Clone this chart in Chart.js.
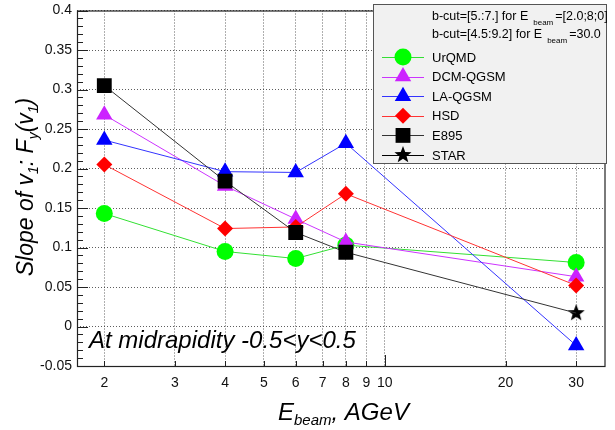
<!DOCTYPE html>
<html>
<head>
<meta charset="utf-8">
<script src="https://cdn.jsdelivr.net/npm/chart.js@4.4.0/dist/chart.umd.min.js"></script>
<style>
  html, body { margin: 0; padding: 0; background: #fff; }
  canvas { display: block; }
</style>
</head>
<body>
<canvas id="chart" width="615" height="430"></canvas>
<script>
// beam energies (AGeV) and slope values
const energies = [2, 4, 6, 8, 30];
const urqmd = [0.143, 0.095, 0.086, 0.103, 0.081];
const dcmQgsm = [0.268, 0.178, 0.136, 0.107, 0.063];
const laQgsm = [0.236, 0.196, 0.195, 0.232, -0.024];
const hsd = [0.205, 0.124, 0.126, 0.168, 0.052];
const e895Energies = [2, 4, 6, 8];
const e895 = [0.305, 0.184, 0.119, 0.094];
const starEnergies = [30];
const star = [0.017];

const xTickValues = [2, 3, 4, 5, 6, 7, 8, 9, 10, 20, 30];
const yTickValues = [-0.05, 0, 0.05, 0.1, 0.15, 0.2, 0.25, 0.3, 0.35, 0.4];

(function () {
  'use strict';

  const FONT = '"Liberation Sans", Arial, Helvetica, sans-serif';

  function toPoints(xs, ys) {
    return xs.map(function (x, i) { return { x: x, y: ys[i] }; });
  }

  function makeStar(r) {
    const c = document.createElement('canvas');
    c.width = c.height = r * 2 + 2;
    const g = c.getContext('2d');
    g.translate(r + 1, r + 1);
    g.beginPath();
    for (let i = 0; i < 10; i++) {
      const rad = i % 2 === 0 ? r : r * 0.42;
      const a = -Math.PI / 2 + i * Math.PI / 5;
      g.lineTo(rad * Math.cos(a), rad * Math.sin(a));
    }
    g.closePath();
    g.fillStyle = '#000';
    g.fill();
    return c;
  }
  const starImg = makeStar(9);

  const series = [
    { label: 'UrQMD', data: toPoints(energies, urqmd), line: '#33e033', fill: '#00ff00', style: 'circle', r: 8.5, order: 4 },
    { label: 'DCM-QGSM', data: toPoints(energies, dcmQgsm), line: '#cc33ff', fill: '#cc22ff', style: 'triangle', r: 9.5, order: 3 },
    { label: 'LA-QGSM', data: toPoints(energies, laQgsm), line: '#3333ff', fill: '#0000ff', style: 'triangle', r: 9.5, order: 2 },
    { label: 'HSD', data: toPoints(energies, hsd), line: '#ff3333', fill: '#ff0000', style: 'rectRot', r: 8, order: 1 },
    { label: 'E895', data: toPoints(e895Energies.concat(starEnergies), e895.concat(star)), line: '#333', fill: '#000', style: 'rect', r: 10.5, order: 0,
      radii: e895Energies.map(function () { return 10.5; }).concat(starEnergies.map(function () { return 0; })) },
    { label: 'STAR', data: toPoints(starEnergies, star), line: '#000', fill: '#000', style: starImg, r: 9, order: 0, noLine: true }
  ];

  function richWidth(ctx, parts, size) {
    let w = 0;
    parts.forEach(function (p) {
      ctx.font = 'italic ' + (p.sub ? p.size : size) + 'px ' + FONT;
      w += ctx.measureText(p.t).width + (p.gap || 0);
    });
    return w;
  }

  function drawRich(ctx, parts, x, y, size) {
    let cx = x;
    parts.forEach(function (p) {
      ctx.font = 'italic ' + (p.sub ? p.size : size) + 'px ' + FONT;
      ctx.fillText(p.t, cx, y + (p.sub ? p.dy : 0));
      cx += ctx.measureText(p.t).width + (p.gap || 0);
    });
    return cx;
  }

  function drawMarker(ctx, s, x, y) {
    ctx.save();
    ctx.fillStyle = s.fill;
    ctx.beginPath();
    if (s.style === 'circle') {
      ctx.arc(x, y, s.r, 0, Math.PI * 2);
    } else if (s.style === 'triangle') {
      const h = s.r * 1.5, hw = s.r * Math.sqrt(3) / 2;
      ctx.moveTo(x, y - s.r);
      ctx.lineTo(x + hw, y - s.r + h);
      ctx.lineTo(x - hw, y - s.r + h);
    } else if (s.style === 'rectRot') {
      ctx.moveTo(x, y - s.r);
      ctx.lineTo(x + s.r, y);
      ctx.lineTo(x, y + s.r);
      ctx.lineTo(x - s.r, y);
    } else if (s.style === 'rect') {
      const h = s.r * Math.SQRT1_2;
      ctx.rect(x - h, y - h, 2 * h, 2 * h);
    } else {
      ctx.drawImage(s.style, x - s.style.width / 2, y - s.style.height / 2);
    }
    ctx.fill();
    ctx.restore();
  }

  const decorations = {
    id: 'decorations',
    afterDatasetsDraw: function (chart) {
      const ctx = chart.ctx;
      const a = chart.chartArea;
      const xs = chart.scales.x, ys = chart.scales.y;
      ctx.save();

      // inner tick marks
      ctx.strokeStyle = '#222';
      ctx.lineWidth = 1;
      ctx.beginPath();
      for (let i = -5; i <= 40; i++) {
        const py = Math.round(ys.getPixelForValue(i / 100)) + 0.5;
        const len = i % 5 === 0 ? 11 : 6;
        ctx.moveTo(a.left, py);
        ctx.lineTo(a.left + len, py);
      }
      xTickValues.forEach(function (v) {
        const px = Math.round(xs.getPixelForValue(v)) + 0.5;
        const len = v === 10 ? 11 : 5;
        ctx.moveTo(px, a.bottom);
        ctx.lineTo(px, a.bottom - len);
      });
      ctx.stroke();

      // frame
      ctx.strokeStyle = '#222';
      ctx.lineWidth = 1.2;
      ctx.strokeRect(a.left + 0.5, a.top + 0.5, a.right - a.left, a.bottom - a.top);

      // annotation
      ctx.fillStyle = '#000';
      ctx.textBaseline = 'alphabetic';
      ctx.font = 'italic 24px ' + FONT;
      ctx.fillText('At midrapidity -0.5<y<0.5', 89, 348);

      // y title
      const yParts = [
        { t: 'Slope of v' }, { t: '1', sub: true, size: 14, dy: 5 },
        { t: ': F' }, { t: 'y', sub: true, size: 14, dy: 5 },
        { t: '(v' }, { t: '1', sub: true, size: 14, dy: 5 }, { t: ')' }
      ];
      ctx.save();
      ctx.translate(33, 187);
      ctx.rotate(-Math.PI / 2);
      const yw = richWidth(ctx, yParts, 23);
      drawRich(ctx, yParts, -yw / 2, 0, 23);
      ctx.restore();

      // x title
      drawRich(ctx, [
        { t: 'E' }, { t: 'beam', sub: true, size: 15, dy: 5 }, { t: ', AGeV' }
      ], 278, 420, 24);

      // legend box
      const lx = 373, ly = 4, lw = 233, lh = 159;
      ctx.fillStyle = '#f1f1f1';
      ctx.fillRect(lx, ly, lw, lh);
      ctx.strokeStyle = '#555';
      ctx.lineWidth = 1;
      ctx.strokeRect(lx + 0.5, ly + 0.5, lw, lh);

      ctx.fillStyle = '#000';
      const headers = [
        { a: 'b-cut=[5.:7.] for E', b: '=[2.0;8;0]', y: 20 },
        { a: 'b-cut=[4.5:9.2] for E', b: '=30.0', y: 38 }
      ];
      headers.forEach(function (h) {
        ctx.font = '12.5px ' + FONT;
        ctx.fillText(h.a, 432, h.y);
        let cx = 432 + ctx.measureText(h.a).width + 5;
        ctx.font = '8px ' + FONT;
        ctx.fillText('beam', cx, h.y + 5);
        cx += ctx.measureText('beam').width + 2;
        ctx.font = '12.5px ' + FONT;
        ctx.fillText(h.b, cx, h.y);
      });

      ctx.textBaseline = 'middle';
      series.forEach(function (s, i) {
        const cy = 57 + i * 19.6;
        ctx.strokeStyle = s.line;
        ctx.lineWidth = 1;
        ctx.beginPath();
        ctx.moveTo(382, Math.round(cy) + 0.5);
        ctx.lineTo(424, Math.round(cy) + 0.5);
        ctx.stroke();
        drawMarker(ctx, s, 403, cy);
        ctx.fillStyle = '#000';
        ctx.font = '13px ' + FONT;
        ctx.fillText(s.label, 432, cy + 1);
      });

      ctx.restore();
    }
  };

  function init() {
    const ctx = document.getElementById('chart');
    new Chart(ctx, {
      type: 'line',
      data: {
        datasets: series.map(function (s) {
          return {
            label: s.label,
            data: s.data,
            order: s.order,
            showLine: !s.noLine,
            borderColor: s.line,
            borderWidth: 1,
            backgroundColor: s.fill,
            pointStyle: s.style,
            pointRadius: s.radii || s.r,
            pointHoverRadius: s.radii || s.r,
            pointBackgroundColor: s.fill,
            pointBorderColor: s.fill,
            pointBorderWidth: 0,
            tension: 0
          };
        })
      },
      options: {
        responsive: false,
        animation: false,
        events: [],
        layout: { padding: { top: 7, right: 9, left: 0, bottom: 0 } },
        plugins: { legend: { display: false }, tooltip: { enabled: false } },
        scales: {
          x: {
            type: 'logarithmic',
            min: 1.71,
            max: 35.3,
            afterBuildTicks: function (scale) {
              scale.ticks = xTickValues.map(function (v) { return { value: v }; });
            },
            afterFit: function (scale) {
              scale.height = 64;
              scale.paddingLeft = 0;
              scale.paddingRight = 0;
            },
            grid: { color: 'rgba(40,40,40,0.75)', lineWidth: 1, drawTicks: false },
            border: { display: false, dash: [1, 2] },
            ticks: {
              autoSkip: false,
              maxRotation: 0,
              padding: 9,
              color: '#111',
              font: { family: FONT, size: 14 },
              callback: function (v) { return String(v); }
            }
          },
          y: {
            type: 'linear',
            min: -0.05,
            max: 0.4,
            afterBuildTicks: function (scale) {
              scale.ticks = yTickValues.map(function (v) { return { value: v }; });
            },
            afterFit: function (scale) {
              scale.width = 77;
              scale.paddingTop = 0;
              scale.paddingBottom = 0;
            },
            grid: { color: 'rgba(40,40,40,0.75)', lineWidth: 1, drawTicks: false },
            border: { display: false, dash: [1, 2] },
            ticks: {
              padding: 5,
              color: '#111',
              font: { family: FONT, size: 14 },
              callback: function (v) { return String(Number(v.toFixed(2))); }
            }
          }
        }
      },
      plugins: [decorations]
    });
  }

  if (document.readyState === 'loading') {
    document.addEventListener('DOMContentLoaded', init);
  } else {
    init();
  }
})();
</script>
</body>
</html>
